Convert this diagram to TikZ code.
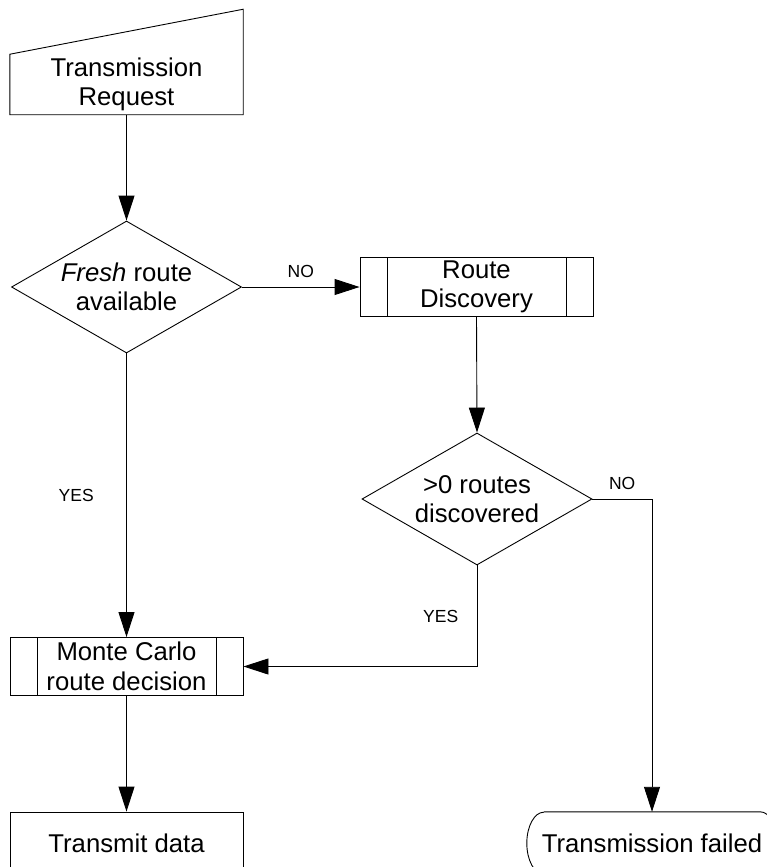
\documentclass[tikz,border=0pt]{standalone}
\usepackage{fontspec}
\setmainfont{Liberation Sans}
\usetikzlibrary{arrows.meta,shapes.geometric}
\tikzset{>={Triangle[length=25pt,width=16pt]}}
\tikzset{line/.style={draw, line width=0.9pt, ->}}
\tikzset{lbl/.style={font=\fontsize{17.5}{20}\selectfont}}
\tikzset{txt/.style={align=center, font=\fontsize{25.7}{29.5}\selectfont}}
\tikzset{decision/.style={txt, draw, diamond, aspect=1.74, inner sep=0pt,
    minimum width=230pt, minimum height=132pt, line width=0.9pt}}
\tikzset{subproc/.style={txt, draw, rectangle, minimum width=233pt,
    minimum height=58pt, line width=0.9pt,
    path picture={\draw[line width=0.9pt]
      ([xshift=27pt]path picture bounding box.north west) -- ([xshift=27pt]path picture bounding box.south west)
      ([xshift=-27pt]path picture bounding box.north east) -- ([xshift=-27pt]path picture bounding box.south east);}}}

\begin{document}
\begin{tikzpicture}[x=1pt, y=-1pt]
\useasboundingbox (0,0) rectangle (767,867);

% manual input, drawn by hand around the node
\node[txt, minimum width=233pt, minimum height=59pt] (req) at (126.5,84.5) {Transmission\\Request};
\draw[line width=0.9pt] (req.south west) -- (req.north west)
  -- ([yshift=45pt]req.north east) -- (req.south east) -- cycle;

\node[decision] (fresh) at (126.5,287) {\textit{Fresh} route\\available};
\node[subproc] (disc) at (476.5,287) {Route\\Discovery};
\node[decision] (found) at (477,499) {>0 routes\\discovered};
\node[subproc] (mc) at (126.5,666.5) {Monte Carlo\\route decision};
\node[txt, draw, line width=0.9pt, minimum width=233pt, minimum height=62pt] (send) at (126.5,843) {Transmit data};
\node[txt, minimum width=250pt, minimum height=62pt] (fail) at (652,843) {Transmission failed};
% terminator with elliptic ends
\draw[line width=0.9pt] ([xshift=17pt]fail.north west) -- ([xshift=-17pt]fail.north east)
  arc[start angle=90, end angle=-90, x radius=17pt, y radius=31pt]
  -- ([xshift=17pt]fail.south west)
  arc[start angle=-90, end angle=-270, x radius=17pt, y radius=31pt];

\path[line] (req.south) -- (fresh.north);
\path[line] (fresh.east) -- node[lbl, midway, above=6pt] {NO} (disc.west);
\path[line] (fresh.south) -- node[lbl, midway, left=29pt] {YES} (mc.north);
\path[line] (disc.south) -- (found.north);
\path[line] (found.east) -| node[lbl, pos=0.25, above=6pt] {NO} (fail.north);
\path[line] (found.south) |- node[lbl, pos=0.25, left=15pt] {YES} (mc.east);
\path[line] (mc.south) -- (send.north);

\end{tikzpicture}
\end{document}
